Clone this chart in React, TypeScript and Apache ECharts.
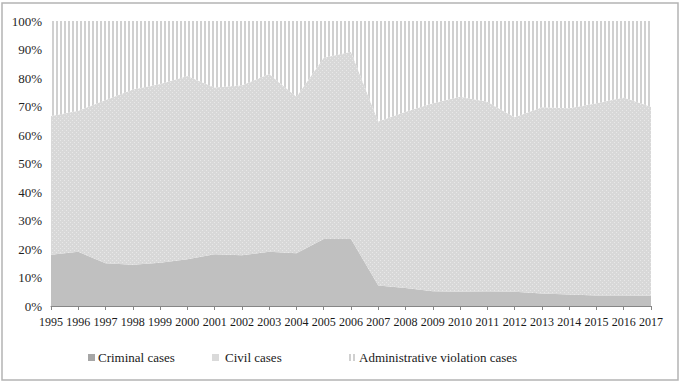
import React, { useEffect, useRef } from "react";
import * as echarts from "echarts";

const years = ["1995","1996","1997","1998","1999","2000","2001","2002","2003","2004","2005","2006","2007","2008","2009","2010","2011","2012","2013","2014","2015","2016","2017"];
const yTicks = [0, 10, 20, 30, 40, 50, 60, 70, 80, 90, 100];
// shares in percent
const criminal = [18, 19, 15, 14.5, 15.2, 16.4, 18.2, 17.8, 19, 18.5, 23.5, 23.5, 7.2, 6.3, 5.2, 5, 4.9, 5, 4.4, 4, 3.7, 3.7, 3.6];
const civil = [48.7, 49.5, 57.3, 61.5, 62.7, 64.3, 58.5, 59.7, 62.4, 54.9, 63.6, 65.7, 57.5, 61.9, 65.9, 68.4, 66.8, 61.2, 65.3, 65.4, 67.4, 69.5, 66.3];
const administrative = [33.3, 31.5, 27.7, 24, 22.1, 19.3, 23.3, 22.5, 18.6, 26.6, 12.9, 10.8, 35.3, 31.8, 28.9, 26.6, 28.3, 33.8, 30.3, 30.6, 28.9, 26.8, 30.1];
const seriesNames = ["Criminal cases", "Civil cases", "Administrative violation cases"];

function makeCanvas(w: number, h: number, draw: (ctx: CanvasRenderingContext2D) => void) {
  const c = document.createElement("canvas");
  c.width = w;
  c.height = h;
  const ctx = c.getContext("2d")!;
  draw(ctx);
  return c;
}

export default function App() {
  const ref = useRef<HTMLDivElement>(null);
  useEffect(() => {
    if (!ref.current) return;
    const chart = echarts.init(ref.current, null, { renderer: "svg" });

    const dots = makeCanvas(4, 4, (ctx) => {
      ctx.fillStyle = "#d8d8d8";
      ctx.fillRect(0, 0, 4, 4);
      ctx.fillStyle = "#e8e8e8";
      ctx.fillRect(0, 0, 1, 1);
      ctx.fillRect(2, 2, 1, 1);
    });
    const stripes = makeCanvas(4, 4, (ctx) => {
      ctx.fillStyle = "#ffffff";
      ctx.fillRect(0, 0, 4, 4);
      ctx.fillStyle = "#d0d0d0";
      ctx.fillRect(0, 0, 2, 4);
    });
    const dotPattern: any = { image: dots, repeat: "repeat", imageWidth: 4, imageHeight: 4 };
    const stripePattern: any = { image: stripes, repeat: "repeat", imageWidth: 4, imageHeight: 4 };

    const font = "Times New Roman, Liberation Serif, serif";
    const colors = ["#c0c0c0", dotPattern, stripePattern];
    const iconColors = ["#a6a6a6", "#dadada", stripePattern];
    const datasets = [criminal, civil, administrative];
    const legendLeft = [88, 212, 349];
    const legendTextPad = [-2, 1, -2];

    chart.setOption({
      animation: false,
      backgroundColor: "#ffffff",
      textStyle: { fontFamily: font },
      grid: { left: 51, right: 34, top: 21, bottom: 80, containLabel: false },
      xAxis: {
        type: "category",
        data: years,
        boundaryGap: false,
        axisLine: { lineStyle: { color: "#868686", width: 1 } },
        axisTick: { show: true, length: 4, lineStyle: { color: "#868686" } },
        axisLabel: { color: "#1a1a1a", fontFamily: font, fontSize: 12, margin: 10, interval: 0 },
      },
      yAxis: {
        type: "value",
        min: 0,
        max: 100,
        interval: 10,
        axisLine: { show: false },
        axisTick: { show: false },
        splitLine: { show: false },
        axisLabel: { color: "#1f1f1f", fontFamily: font, fontSize: 13, margin: 9, formatter: "{value}%" },
      },
      legend: seriesNames.map((n, i) => ({
        data: [{ name: n, itemStyle: { color: iconColors[i] } }],
        left: legendLeft[i],
        top: 351,
        padding: 0,
        icon: "rect",
        itemWidth: 7,
        itemHeight: 7,
        itemGap: 4,
        textStyle: { fontFamily: font, fontSize: 13, color: "#1a1a1a", padding: [0, 0, 0, legendTextPad[i]] },
        selectedMode: false,
      })),
      graphic: [
        {
          type: "rect",
          shape: { x: 2, y: 3, width: 676, height: 377 },
          style: { fill: "none", stroke: "#b4b4b4", lineWidth: 1.5 },
          silent: true,
          z: 100,
        },
      ],
      series: seriesNames.map((n, i) => ({
        name: n,
        type: "line",
        stack: "total",
        data: datasets[i],
        symbol: "none",
        lineStyle: { width: 0 },
        itemStyle: { color: iconColors[i] },
        areaStyle: { color: colors[i], opacity: 1 },
      })),
    });
    return () => chart.dispose();
  }, []);
  return <div ref={ref} style={{ position: "fixed", left: 0, top: 0, width: 685, height: 386 }} />;
}
